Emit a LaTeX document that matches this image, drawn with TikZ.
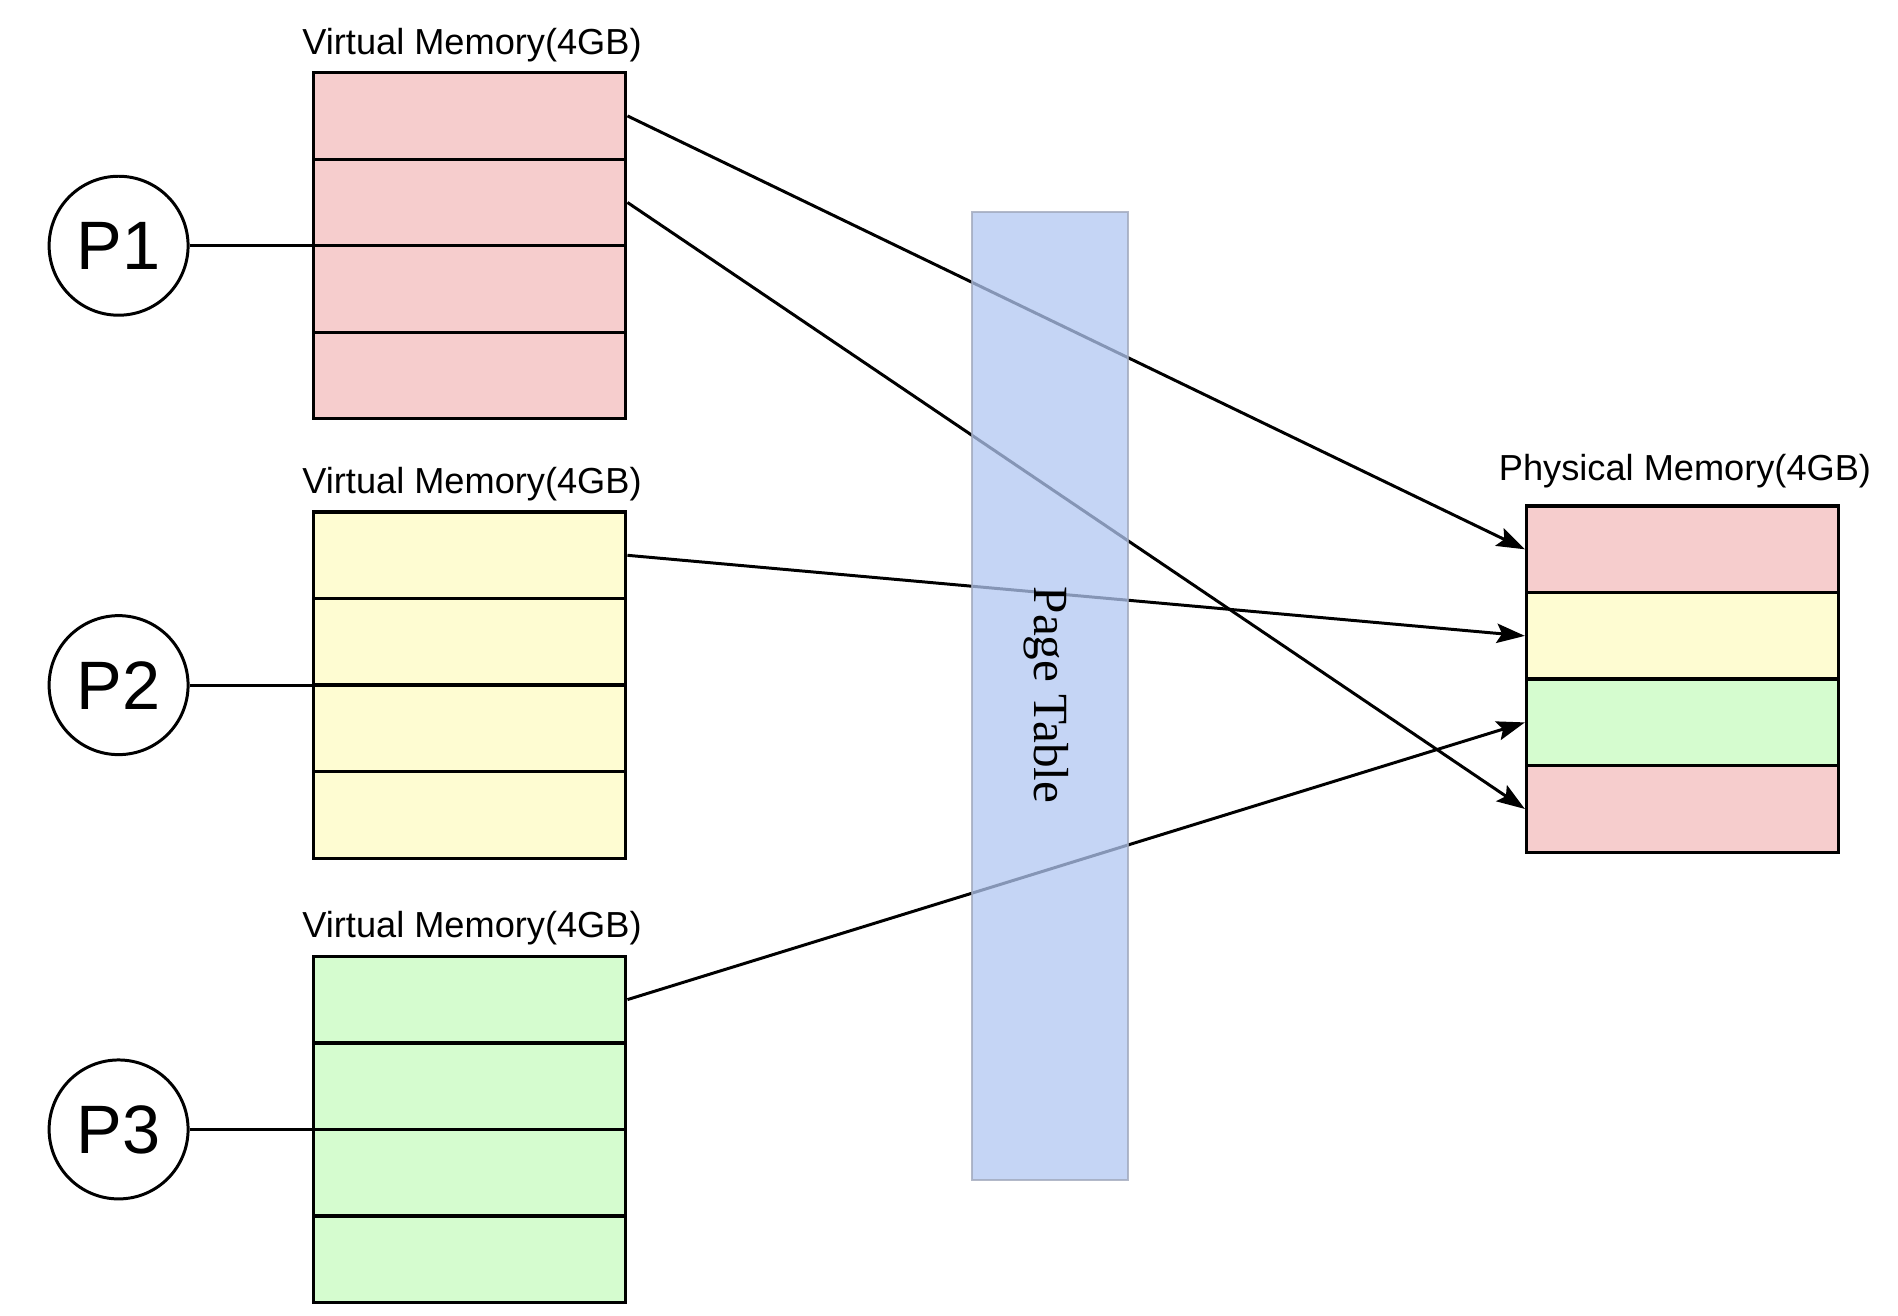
\documentclass[tikz,border=0pt]{standalone}
\usepackage{fontspec}
\setmainfont{Liberation Sans}
\newfontfamily\ptserif{Liberation Serif}
\usetikzlibrary{arrows.meta}
\definecolor{pinkc}{HTML}{F6CDCD}
\definecolor{yellowc}{HTML}{FEFCD2}
\definecolor{greenc}{HTML}{D5FCCF}
\definecolor{ptfill}{HTML}{B2C7F2}
\definecolor{ptborder}{HTML}{A0A8BC}
\begin{document}
\begin{tikzpicture}[x=0.02cm,y=-0.02cm,
  rowbox/.style={draw=black,line width=1.9pt,minimum width=6.246cm,minimum height=1.731cm,inner sep=0pt},
  proc/.style={circle,draw=black,line width=1.7pt,minimum size=2.78cm,inner sep=0pt,font=\fontsize{39}{42}\selectfont},
  memlabel/.style={font=\fontsize{20.6}{24}\selectfont,inner sep=0pt},
  link/.style={line width=1.7pt,draw=black},
  maparrow/.style={line width=1.7pt,draw=black,-{Stealth[length=16pt,width=11pt,inset=3pt]}}
]
\useasboundingbox (0,0) rectangle (1898,1316);
\fill[white] (0,0) rectangle (1898,1316);

% Virtual memory 1
\node[rowbox,fill=pinkc] (v1r1) at (469.65,115.9) {};
\node[rowbox,fill=pinkc] (v1r2) at (469.65,202.45) {};
\node[rowbox,fill=pinkc] (v1r3) at (469.65,289.0) {};
\node[rowbox,fill=pinkc] (v1r4) at (469.65,375.55) {};
\node[memlabel] (v1lab) at (472,44.8) {Virtual Memory(4GB)};

% Virtual memory 2
\node[rowbox,fill=yellowc] (v2r1) at (469.65,555.3) {};
\node[rowbox,fill=yellowc] (v2r2) at (469.65,641.85) {};
\node[rowbox,fill=yellowc] (v2r3) at (469.65,728.4) {};
\node[rowbox,fill=yellowc] (v2r4) at (469.65,814.95) {};
\node[memlabel] (v2lab) at (472,484.2) {Virtual Memory(4GB)};

% Virtual memory 3
\node[rowbox,fill=greenc] (v3r1) at (469.65,999.6) {};
\node[rowbox,fill=greenc] (v3r2) at (469.65,1086.15) {};
\node[rowbox,fill=greenc] (v3r3) at (469.65,1172.7) {};
\node[rowbox,fill=greenc] (v3r4) at (469.65,1259.25) {};
\node[memlabel] (v3lab) at (472,928.5) {Virtual Memory(4GB)};

% Physical memory
\node[rowbox,fill=pinkc] (pm1) at (1682.65,549.3) {};
\node[rowbox,fill=yellowc] (pm2) at (1682.65,635.85) {};
\node[rowbox,fill=greenc] (pm3) at (1682.65,722.4) {};
\node[rowbox,fill=pinkc] (pm4) at (1682.65,808.95) {};
\node[memlabel] (pmlab) at (1685,470.9) {Physical Memory(4GB)};

% Processes
\node[proc] (p1) at (118.6,245.725) {P1};
\node[proc] (p2) at (118.6,685.125) {P2};
\node[proc] (p3) at (118.6,1129.425) {P3};
\draw[link] (p1.east) -- (p1.east -| v1r2.west);
\draw[link] (p2.east) -- (p2.east -| v2r2.west);
\draw[link] (p3.east) -- (p3.east -| v3r2.west);

% Mappings
\draw[maparrow] (v1r1.east) -- (pm1.west);
\draw[maparrow] (v1r2.east) -- (pm4.west);
\draw[maparrow] (v2r1.east) -- (pm2.west);
\draw[maparrow] (v3r1.east) -- (pm3.west);

% Page table (semi-transparent, over the arrows)
\node[draw=ptborder,line width=1.4pt,fill=ptfill,fill opacity=0.75,draw opacity=0.8,text opacity=1,
  minimum width=3.124cm,minimum height=19.368cm,inner sep=0pt] (pt) at (1050.1,696) {};
\node[rotate=-90,font=\ptserif\fontsize{28}{30}\selectfont,inner sep=0pt] (ptlab) at (1046,695) {Page Table};
\end{tikzpicture}
\end{document}
